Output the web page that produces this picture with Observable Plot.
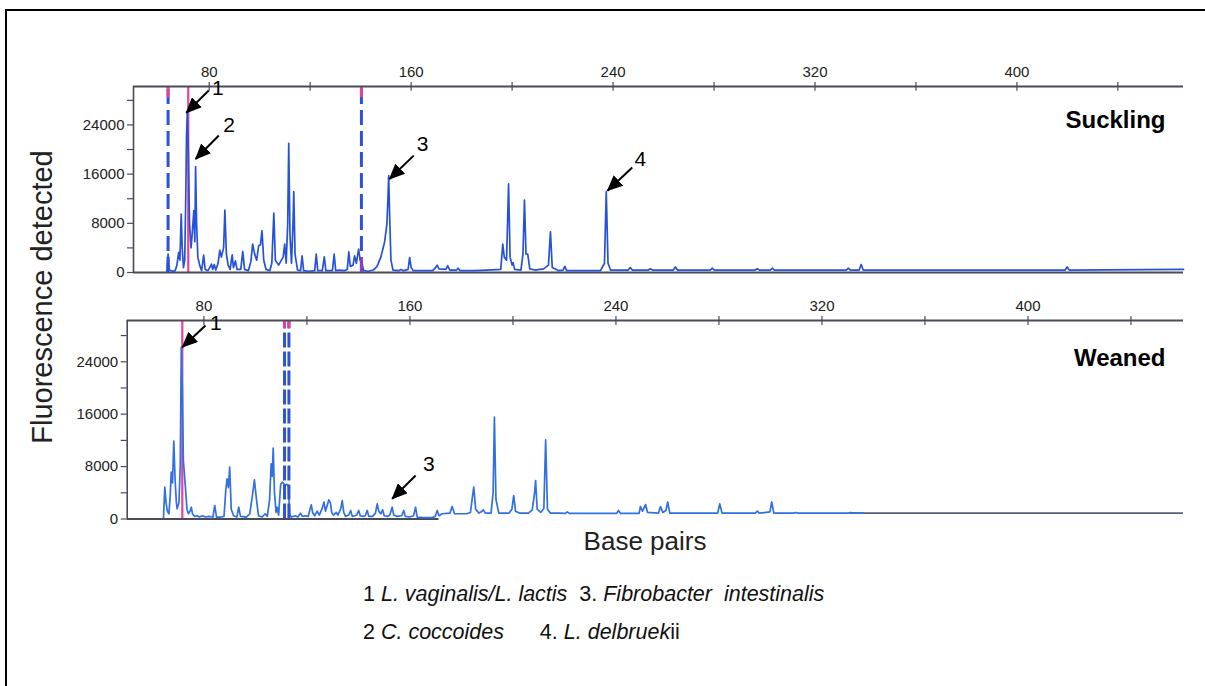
<!DOCTYPE html>
<html>
<head>
<meta charset="utf-8">
<script src="https://cdn.jsdelivr.net/npm/d3@7"></script>
<script src="https://cdn.jsdelivr.net/npm/@observablehq/plot@0.6"></script>
<style>
  html, body { margin: 0; padding: 0; background: #fff; }
  #wrap { position: relative; width: 1205px; height: 686px; overflow: hidden; background: #fff;
          font-family: "Liberation Sans", Arial, Helvetica, sans-serif; color: #111; }
  #frame { position: absolute; left: 5px; top: 9px; width: 1400px; height: 900px; border: 2px solid #000; }
  .plot { position: absolute; left: 0; }
  #ylab { position: absolute; left: 42px; top: 297px; transform: translate(-50%, -50%) rotate(-90deg);
          font-size: 29px; white-space: nowrap; color: #222; }
  #xlab { position: absolute; left: 645px; top: 541px; transform: translate(-50%, -50%);
          font-size: 26px; white-space: nowrap; color: #222; }
  .leg { position: absolute; left: 363px; font-size: 21.5px; white-space: pre; color: #111; line-height: 24px; }
</style>
</head>
<body>
<div id="wrap">
  <div id="frame"></div>
  <div id="p1" class="plot" style="top:0px"></div>
  <div id="p2" class="plot" style="top:294px"></div>
  <div id="ylab">Fluorescence detected</div>
  <div id="xlab">Base pairs</div>
  <div class="leg" style="top:582px">1 <i>L. vaginalis/L. lactis</i>  3. <i>Fibrobacter  intestinalis</i></div>
  <div class="leg" style="top:620px">2 <i>C. coccoides</i>      4. <i>L. delbruek</i>ii</div>
</div>
<script>
// ---------- data ----------
const xTicksMajor = [80, 160, 240, 320, 400];
const xTicksAll = [80, 120, 160, 200, 240, 280, 320, 360, 400, 440];
const yTicksMajor = [0, 8000, 16000, 24000];
const yTicksAll = [0, 4000, 8000, 12000, 16000, 20000, 24000, 28000];

const panelNames = ["Suckling", "Weaned"];

// Suckling trace (base pairs, fluorescence)
const sucklingBp = [63.2,63.7,64.2,65.5,66.5,67.2,67.9,68.4,68.9,69.3,69.8,70.3,70.7,71.0,71.3,71.7,72.2,72.8,73.3,73.9,74.3,74.6,75.0,75.5,76.2,77.0,77.8,78.4,79.5,80.2,80.9,81.4,82.0,82.6,83.5,84.2,84.8,85.7,86.2,86.8,87.5,88.3,89.1,89.6,90.4,91.0,92.5,93.3,94.0,95.5,96.5,97.2,98.0,98.8,99.6,100.3,100.9,101.6,102.5,104.0,104.8,105.6,106.2,107.5,108.3,109.3,109.9,110.5,111.1,111.5,112.0,112.6,113.2,113.5,114.0,115.0,116.2,116.8,117.4,119.5,121.8,122.4,123.0,124.8,125.6,126.2,128.8,129.5,130.1,131.5,133.5,134.7,135.3,135.9,137.0,137.6,138.3,139.2,139.8,140.5,141.2,143.0,145.0,146.5,148.0,149.5,150.4,150.8,151.1,151.5,152.0,152.8,155.0,156.0,157.0,158.8,159.4,160.0,160.8,162.5,168.5,169.5,170.3,171.0,173.8,174.5,175.3,178.0,178.6,179.4,185.0,190.0,195.5,196.3,196.9,197.8,198.6,199.2,200.0,200.4,201.0,203.5,204.3,204.9,205.5,206.2,207.0,209.0,212.5,214.4,215.2,215.9,218.5,220.2,220.9,221.6,235.0,236.6,237.3,238.0,239.0,246.0,246.8,247.6,254.0,254.8,255.6,263.9,264.7,265.5,278.5,279.3,280.1,296.3,297.1,297.9,302.3,303.1,303.9,332.4,333.2,334.0,337.5,338.3,339.1,419.1,419.9,420.7,466.0];
const sucklingFl = [0,3000,400,200,300,1200,3260,2000,9510,4000,800,2000,12000,22000,26060,20000,8000,4000,6500,10050,5000,17220,8000,2500,1200,300,2830,500,300,800,1370,500,1300,400,1500,3650,2500,4000,10160,3000,1200,500,2880,800,1900,500,500,3420,500,300,1800,4620,3000,2000,4350,4500,6790,2000,500,300,1500,9680,2000,1200,1800,2500,4620,1500,8000,21010,6000,1500,8000,13150,3000,400,300,2720,300,200,300,3000,300,300,2560,300,300,3000,300,400,300,500,3370,1000,1200,2720,1500,3810,2000,1500,300,200,400,1000,2500,5000,7880,12000,15750,9000,2000,400,300,500,300,500,2440,800,300,300,300,700,1200,600,500,1100,400,400,700,300,300,400,500,4620,2500,2000,14400,2500,1200,1600,500,400,3000,11790,3000,3000,600,400,600,1200,6630,800,300,400,1000,300,300,1500,13190,1500,400,400,800,400,400,600,400,400,900,400,400,700,400,400,600,400,400,700,400,400,700,400,400,1300,400,400,900,400,500];

// Weaned trace (base pairs, fluorescence)
const weanedBp = [64.3,64.8,65.3,65.8,66.4,66.9,67.3,67.8,68.3,68.8,69.3,69.6,70.3,70.8,71.2,71.6,72.0,72.8,73.4,74.0,74.6,75.1,75.6,76.5,77.4,78.3,79.5,80.5,82.0,83.5,84.2,84.9,86.5,87.8,88.5,89.0,89.5,90.0,90.6,91.5,92.8,93.5,94.2,96.5,97.8,98.8,99.6,100.4,101.2,102.5,103.8,104.6,105.5,106.1,106.5,106.9,107.4,108.0,108.4,109.0,109.8,110.4,111.0,111.6,112.2,112.8,113.3,114.0,115.5,116.5,117.5,118.2,119.5,120.5,121.2,121.7,122.2,123.0,124.0,124.8,125.8,126.6,127.2,127.8,128.5,129.1,129.6,130.3,131.4,132.0,133.1,133.7,134.3,135.0,136.2,137.0,137.6,138.7,139.3,140.1,140.7,141.8,142.6,143.4,144.0,145.5,146.6,147.3,147.9,148.7,149.4,150.0,151.2,152.2,153.1,153.7,155.0,156.8,157.6,158.2,159.8,161.4,162.2,162.8,165.0,168.5,169.8,170.6,171.3,172.5,175.5,176.4,177.3,182.0,183.5,184.3,184.8,185.5,186.8,187.7,188.5,189.3,191.5,192.3,192.8,193.4,194.5,198.5,199.6,200.3,201.0,202.5,206.0,207.5,208.4,208.8,209.4,210.8,212.0,212.7,213.4,214.5,218.0,220.3,221.1,221.9,240.2,241.0,241.8,249.0,249.5,250.3,251.5,252.3,256.5,257.3,258.2,259.4,260.1,260.9,279.5,280.3,281.2,294.1,294.9,295.7,299.8,300.5,301.3,309.0,309.8,310.6,318.8,319.6,320.4,330.3,331.1,331.9,336.0];
const weanedFl = [200,4860,2500,1200,800,3500,7150,5500,11880,6000,2500,1560,2500,8000,26230,20000,9000,4860,1500,800,1200,1800,700,400,500,300,500,300,400,300,2060,300,300,400,4500,6140,4800,7910,1500,500,300,1800,400,300,800,3500,5990,3000,500,300,800,400,3000,8430,6500,10810,4000,1000,1800,600,5300,5620,5400,5200,5300,5000,700,300,500,300,900,400,500,400,1500,2170,1000,500,1200,600,1500,2570,1200,2000,2930,2500,1000,600,1000,600,1500,2820,1000,400,600,1300,400,500,600,1300,500,400,500,1300,400,400,900,2320,1200,800,1400,500,400,600,1800,600,400,500,1300,400,300,500,1800,300,200,200,400,1300,500,800,900,1910,800,800,1000,3500,4860,1500,900,1100,1400,900,900,4000,15540,3000,900,900,1500,3590,1200,900,900,1400,4000,5880,1500,1000,1600,12090,1500,900,900,850,1100,850,850,1300,850,850,1900,1200,2200,1000,900,1900,1000,1300,2600,900,900,2300,900,900,1200,900,1100,2600,900,900,1000,900,900,900,900,900,1000,900,900];

// Marker lines (base pairs)
const sucklingDashed = [63.7, 140.3];
const sucklingPink = [71.7];
const weanedDashed = [111.3, 113.0];
const weanedPink = [71.6];
const weanedAxisEnd = 171.3;        // end of the drawn zero line in the weaned panel
const weanedGreyBp = [331.1, 460.4]; // grey tail of the weaned baseline
const weanedGreyFl = 900;

// Peak annotations
const sucklingLabels = ["1", "2", "3", "4"];
const sucklingTipBp = [70.9, 74.6, 151.4, 237.8];
const sucklingTipFl = [25970, 18470, 15210, 13310];
const sucklingTailBp = [79.8, 83.8, 161.0, 247.6];
const sucklingTailFl = [29600, 22270, 19010, 17060];
const sucklingTextBp = [83.4, 87.9, 164.5, 250.8];
const sucklingTextFl = [29950, 23950, 20850, 18350];

const weanedLabels = ["1", "3"];
const weanedTipBp = [71.6, 153.1];
const weanedTipFl = [26230, 3080];
const weanedTailBp = [80.6, 162.2];
const weanedTailFl = [29550, 6640];
const weanedTextBp = [84.6, 167.3];
const weanedTextFl = [29900, 8430];

// ---------- helpers ----------
const zip = (xs, ys) => xs.map((x, i) => ({x, y: ys[i]}));
const arrows = (labels, tb, tf, lb, lf, xb, xf) =>
  labels.map((l, i) => ({label: l, x1: lb[i], y1: lf[i], x2: tb[i], y2: tf[i], tx: xb[i], ty: xf[i]}));

const AXIS = "#4b4b58";
const TXT = "#222";
const PINK = "#e8409a";
const DASH = "#2d52d6";
const plain = d => String(d);

function panel({name, trace, xDomain, yMax, marginLeft, marginTop, height, marginBottom, color,
                dashed, pink, dashArray, pinkCapTop, pinkBottom, axisEnd, tail, notes, labelDy}) {
  const [x0, x1] = xDomain;
  const marks = [
    Plot.ruleX(pink, {x: d => d, y1: 0, y2: yMax, stroke: PINK, strokeWidth: 2.2}),
    Plot.ruleY([0], {x1: x0, x2: axisEnd ?? x1, stroke: AXIS, strokeWidth: 1.8}),
  ];
  if (tail) marks.push(Plot.ruleY([tail.fl], {x1: tail.bp[0], x2: tail.bp[1], stroke: "#56607a", strokeWidth: 1.6}));
  marks.push(
    Plot.line(trace, {x: "x", y: "y", stroke: color, strokeWidth: 1.7, strokeLinejoin: "round"}),
    Plot.ruleX(dashed, {x: d => d, y1: 0, y2: yMax, stroke: DASH, strokeWidth: 3, strokeDasharray: dashArray}),
    Plot.ruleX(dashed, {x: d => d, y1: yMax * pinkCapTop, y2: yMax, stroke: PINK, strokeWidth: 3}),
  );
  if (pinkBottom) marks.push(Plot.ruleX(dashed.slice(-1), {x: d => d, y1: 0, y2: yMax * pinkBottom, stroke: "#8a3cc8", strokeWidth: 3}));
  marks.push(
    Plot.ruleY([yMax], {stroke: AXIS, strokeWidth: 1.8}),
    Plot.ruleX([x0], {y1: 0, y2: yMax, stroke: AXIS, strokeWidth: 1.6}),
    Plot.axisY(yTicksAll, {anchor: "left", tickSize: 6, tickFormat: () => "", stroke: AXIS, strokeWidth: 1.2, label: null}),
    Plot.axisY(yTicksMajor, {anchor: "left", tickSize: 6, tickPadding: 3, fontSize: 15, tickFormat: plain, color: TXT, strokeOpacity: 0, label: null}),
    Plot.axisX(xTicksAll, {anchor: "top", tickSize: 5, tickFormat: () => "", stroke: AXIS, strokeWidth: 1.2, label: null}),
    Plot.ruleX(xTicksAll, {x: d => d, y1: yMax, y2: yMax * 0.975, stroke: AXIS, strokeWidth: 1.2}),
    Plot.axisX(xTicksMajor, {anchor: "top", tickSize: 5, tickPadding: 5, fontSize: 15, tickFormat: plain, color: TXT, strokeOpacity: 0, label: null}),
    Plot.text([name], {frameAnchor: "top-right", dx: -18, dy: labelDy, text: d => d, textAnchor: "end",
                       lineAnchor: "middle", fontSize: 24, fontWeight: "bold", fill: "#000"}),
    Plot.link(notes, {x1: "x1", y1: "y1", x2: "x2", y2: "y2", stroke: "#000", strokeWidth: 2}),
    Plot.text(notes, {x: "tx", y: "ty", text: "label", fontSize: 21, fill: "#000", lineAnchor: "middle"})
  );
  const svg = Plot.plot({
    width: 1205, height,
    marginLeft, marginRight: 1205 - 1183, marginTop, marginBottom,
    x: {domain: xDomain, label: null},
    y: {domain: [0, yMax], label: null},
    style: {background: "transparent", overflow: "visible", fontFamily: "'Liberation Sans', Arial, sans-serif"},
    marks
  });
  const id = "head-" + name;
  const m = d3.select(svg).append("defs").append("marker")
    .attr("id", id).attr("markerUnits", "userSpaceOnUse")
    .attr("markerWidth", 16).attr("markerHeight", 14)
    .attr("refX", 15).attr("refY", 7).attr("orient", "auto");
  m.append("path").attr("d", "M0,0L16,7L0,14Z").attr("fill", "#000");
  d3.select(svg).selectAll('g[aria-label="link"] path').attr("marker-end", `url(#${id})`);
  return svg;
}

const p1 = panel({
  name: panelNames[0],
  trace: zip(sucklingBp, sucklingFl),
  xDomain: [50, 466], yMax: 30250,
  marginLeft: 133, marginTop: 86, height: 292, marginBottom: 20,
  color: "#2652d8",
  dashed: sucklingDashed, pink: sucklingPink, dashArray: "15,6", pinkCapTop: 0.94, pinkBottom: 0.08,
  axisEnd: null, tail: null,
  notes: arrows(sucklingLabels, sucklingTipBp, sucklingTipFl, sucklingTailBp, sucklingTailFl, sucklingTextBp, sucklingTextFl),
  labelDy: 34
});
const p2 = panel({
  name: panelNames[1],
  trace: zip(weanedBp, weanedFl),
  xDomain: [50.2, 460.4], yMax: 30300,
  marginLeft: 126.7, marginTop: 26, height: 236, marginBottom: 11.5,
  color: "#3170e2",
  dashed: weanedDashed, pink: weanedPink, dashArray: "15,4", pinkCapTop: 0.96, pinkBottom: null,
  axisEnd: weanedAxisEnd, tail: {bp: weanedGreyBp, fl: weanedGreyFl},
  notes: arrows(weanedLabels, weanedTipBp, weanedTipFl, weanedTailBp, weanedTailFl, weanedTextBp, weanedTextFl),
  labelDy: 38
});
document.getElementById("p1").appendChild(p1);
document.getElementById("p2").appendChild(p2);
</script>
</body>
</html>
